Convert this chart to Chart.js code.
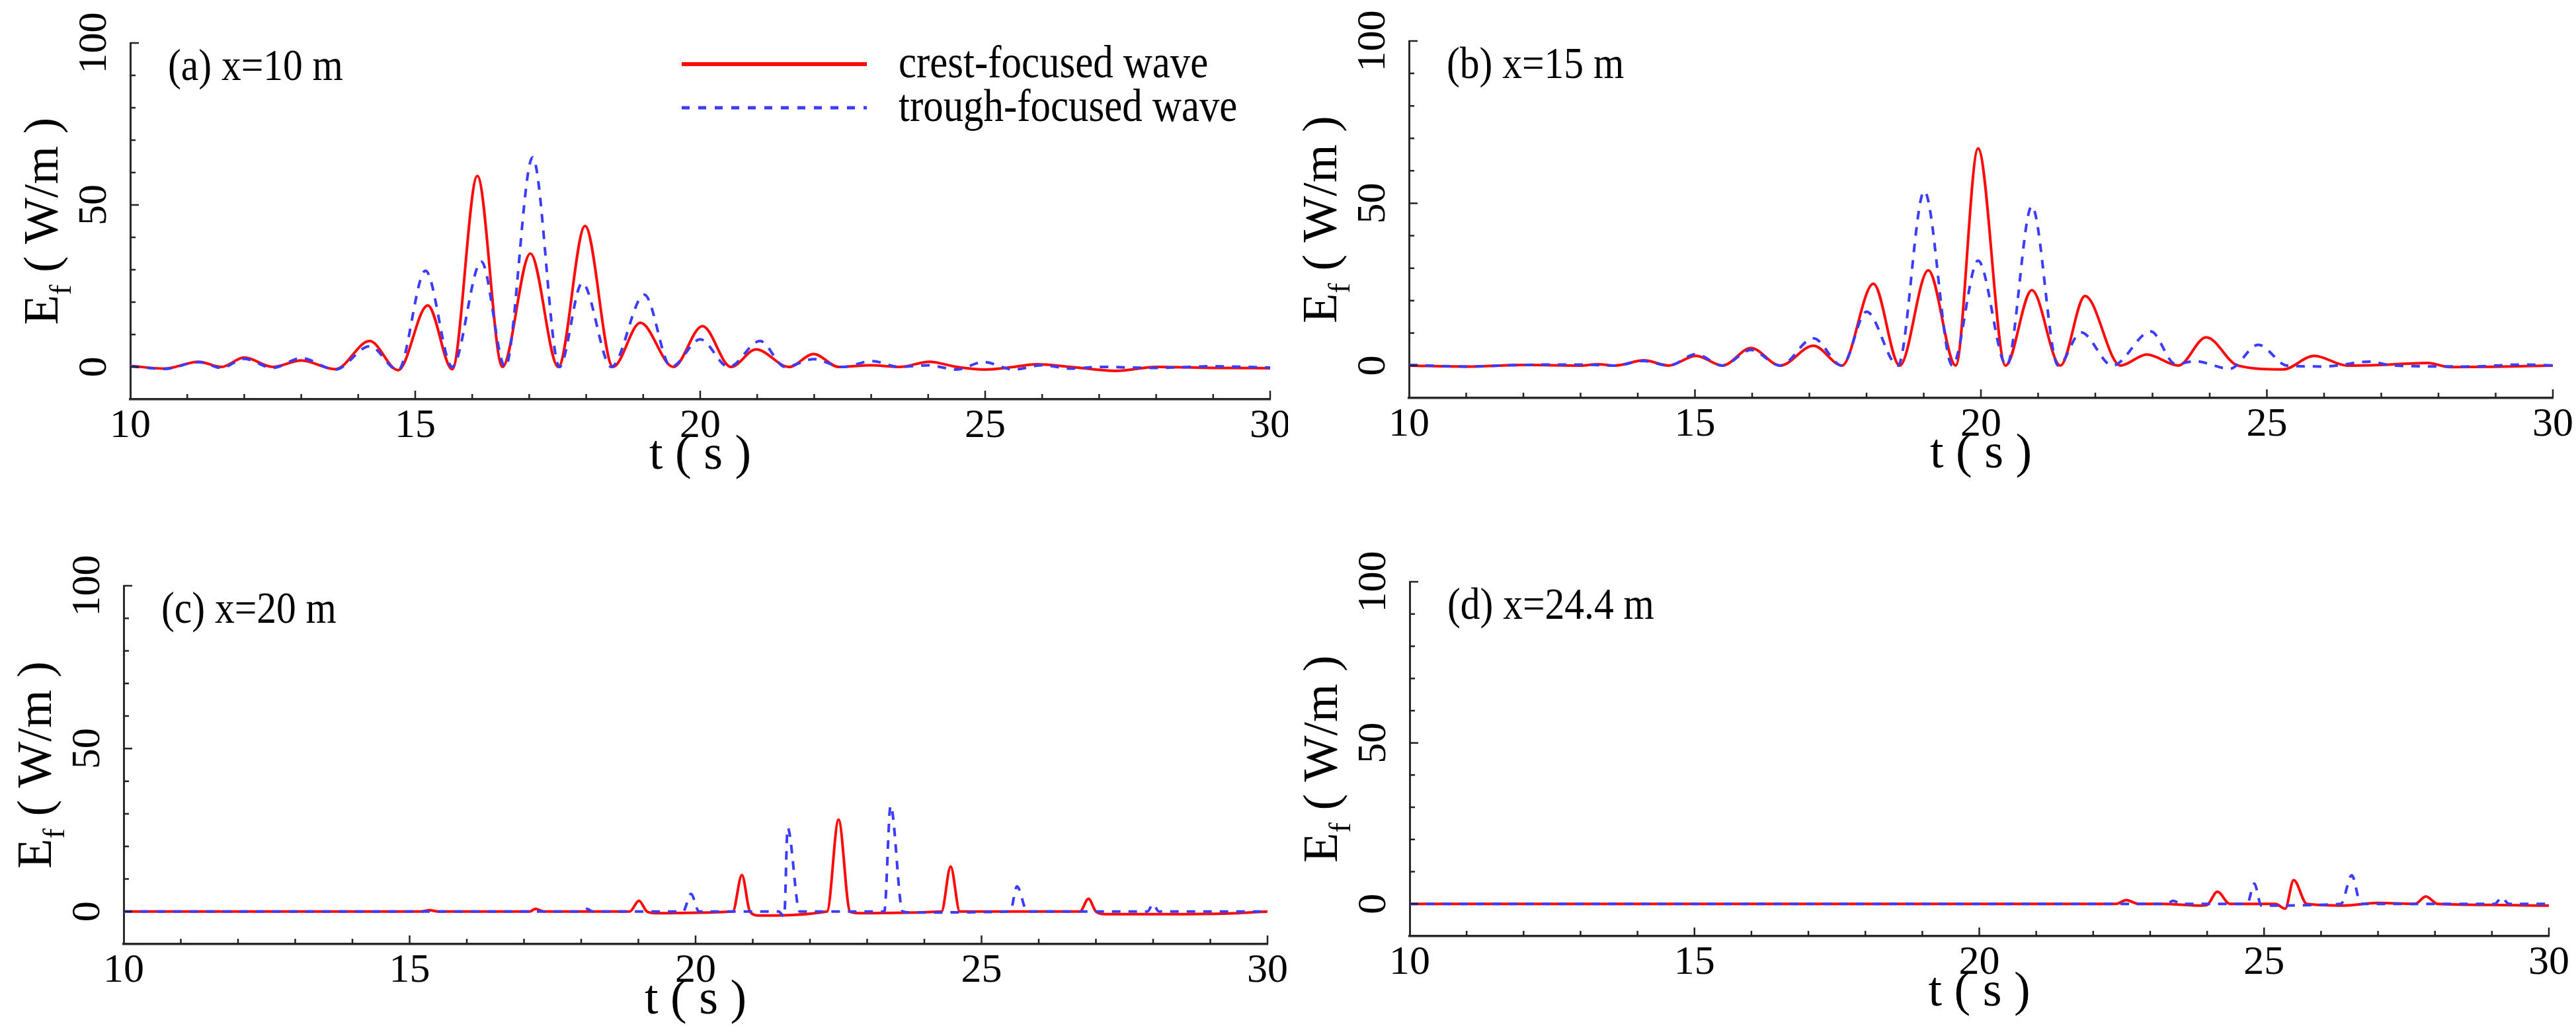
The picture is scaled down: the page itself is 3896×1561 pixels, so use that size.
<!DOCTYPE html>
<html lang="en">
<head>
    <meta charset="UTF-8">
    <title>Energy flux E_f</title>
    <script src="https://cdn.jsdelivr.net/npm/chart.js"></script>
    <style>
        body {
            margin: 0;
            background: #ffffff;
            width: 3896px;
            height: 1561px;
            position: relative;
            overflow: hidden;
        }

        .panel {
            position: absolute;
            width: 1948px;
            height: 780px;
        }
    </style>
</head>
<body>
    <div class="panel" style="left:0;top:0"><canvas id="chartA"></canvas></div>
    <div class="panel" style="left:1948px;top:0"><canvas id="chartB"></canvas></div>
    <div class="panel" style="left:0;top:780px"><canvas id="chartC"></canvas></div>
    <div class="panel" style="left:1948px;top:780px;height:781px"><canvas id="chartD"></canvas></div>

    <script>
        // series labels
        const seriesNames = ['crest-focused wave', 'trough-focused wave'];
        const panelLabels = ['(a) x=10 m', '(b) x=15 m', '(c) x=20 m', '(d) x=24.4 m'];

        // (a) x = 10 m
        const crestTimeA = [10, 10.6, 11.2, 11.6, 12.0, 12.5, 13.0, 13.6, 14.2, 14.7, 15.22, 15.65, 16.09, 16.53, 17.02, 17.51, 17.98, 18.47, 18.95, 19.53, 20.04, 20.54, 20.98, 21.56, 21.99, 22.43, 23.0, 23.5, 24.02, 24.5, 25.0, 25.5, 25.9, 26.5, 27.3, 28.0, 29.0, 30];
        const crestFluxA = [0.3, -0.5, 1.6, 0, 2.9, 0, 2.0, -0.7, 8, -1, 19, -0.7, 59, 0, 35, 0, 43.5, 0, 13.6, 0, 12.6, 0, 5.4, 0, 4.0, 0, 0.5, 0, 1.6, 0, -0.8, 0, 0.8, 0, -1.2, 0, -0.3, -0.4];
        const troughTimeA = [10, 10.6, 11.2, 11.6, 12.0, 12.5, 13.0, 13.6, 14.2, 14.7, 15.18, 15.65, 16.16, 16.58, 17.06, 17.53, 17.93, 18.44, 19.02, 19.49, 20.0, 20.5, 21.05, 21.49, 21.99, 22.5, 23.01, 23.5, 24.0, 24.5, 24.97, 25.5, 26.0, 26.5, 27.0, 28.0, 29.0, 30];
        const troughFluxA = [0.2, -0.6, 1.5, -0.3, 2.5, -0.3, 2.7, -0.8, 6.4, -1, 29.7, 0, 32.5, 0, 64.7, 0, 25.9, 0, 22.3, 0, 8.5, 0, 8.0, 0, 2.4, 0, 1.8, 0, 0.5, -0.8, 1.5, -0.8, 0.5, -0.5, 0, -0.3, 0.2, -0.2];

        // (b) x = 15 m
        const crestTimeB = [10, 11, 12, 13, 13.3, 13.6, 14.11, 14.54, 15.02, 15.48, 15.98, 16.49, 17.07, 17.57, 18.12, 18.58, 19.08, 19.56, 19.95, 20.43, 20.89, 21.39, 21.82, 22.44, 22.9, 23.45, 23.94, 24.49, 25.28, 25.83, 26.4, 27.0, 27.81, 28.2, 29, 30];
        const crestFluxB = [0, -0.3, 0.2, 0, 0.4, 0, 1.6, 0, 3.0, 0, 5.4, 0, 6.1, 0, 25.2, 0, 29.3, 0, 66.9, 0, 23.2, 0, 21.4, 0, 3.4, 0, 8.7, 0, -1.2, 3.0, 0, 0.2, 0.8, -0.5, -0.4, 0];
        const troughTimeB = [10, 11, 12, 13, 13.6, 14.1, 14.54, 15.02, 15.48, 15.98, 16.49, 17.07, 17.57, 18.0, 18.55, 19.01, 19.5, 19.95, 20.45, 20.89, 21.35, 21.75, 22.3, 22.97, 23.4, 23.75, 24.35, 24.85, 25.35, 26.0, 26.8, 27.2, 28.5, 29.5, 30];
        const troughFluxB = [0.2, -0.3, 0.2, 0.3, 0, 1.4, 0, 3.5, 0, 4.8, 0, 8.4, 0, 16.6, 0, 53.7, 0, 32.3, 0, 49.1, 0, 10.2, 0, 10.5, 0.5, 1.3, -1, 6.4, 0, -0.3, 1.2, 0, -0.3, 0.3, 0];

        // (c) x = 20 m
        const crestTimeC = [10, 15.2, 15.35, 15.5, 17.1, 17.2, 17.35, 18.85, 19.01, 19.15, 19.3, 20.65, 20.81, 20.95, 21.1, 22.3, 22.5, 22.7, 22.85, 24.3, 24.46, 24.62, 24.8, 26.72, 26.87, 27.0, 27.15, 28.3, 29.5, 30];
        const crestFluxC = [0, 0, 0.4, 0, 0, 0.8, 0, 0, 3.3, 0, -0.5, 0, 11.2, 0, -1.2, 0, 28.2, 0, -0.5, 0, 13.8, 0, 0, 0, 3.9, 0, -0.8, -0.8, -0.5, 0];
        const troughTimeC = [10, 18.0, 18.1, 18.2, 19.78, 19.92, 20.06, 21.45, 21.55, 21.61, 21.82, 21.95, 23.3, 23.41, 23.62, 23.75, 25.5, 25.62, 25.8, 27.9, 28.0, 28.1, 30];
        const troughFluxC = [0, 0, 0.8, 0, 0, 5.4, 0, 0, -1.5, 25.7, 0, 0, 0, 32.5, 0, -0.3, 0, 7.7, 0, 0, 2.3, 0, 0];

        // (d) x = 24.4 m
        const crestTimeD = [10, 22.4, 22.58, 22.8, 23.2, 23.9, 24.0, 24.18, 24.4, 24.6, 25.2, 25.37, 25.52, 25.75, 26.4, 27.0, 27.65, 27.84, 28.05, 29.0, 29.9, 30];
        const crestFluxD = [0, 0, 1.2, 0, 0, -0.5, -0.3, 3.8, 0, 0, 0, -1.5, 7.4, 0, -0.5, 0.3, 0, 2.3, 0, -0.3, -0.5, -0.5];
        const troughTimeD = [10, 22.0, 23.3, 23.4, 23.55, 24.7, 24.83, 24.95, 26.35, 26.54, 26.7, 29.05, 29.17, 29.3, 30];
        const troughFluxD = [0, 0, 0, 1.0, 0, 0, 6.3, -0.5, 0, 8.9, 0, 0, 2.0, 0, 0];

        // axis ranges and labelled ticks
        const tMin = 10, tMax = 30, tStep = 1, tLabelEvery = 5;
        const eMin = -10, eMax = 100, eStep = 10, eLabelEvery = 50;

        const serif = '"Liberation Serif", "Times New Roman", serif';
        const red = '#ff0a0a';
        const blue = '#3c3cff';

        function pts(ts, vs) {
            return ts.map((t, i) => ({ x: t, y: vs[i] }));
        }

        // narrow serif text, like the original figure
        function narrowText(ctx, text, x, y, size, squeeze) {
            ctx.save();
            ctx.translate(x, y);
            ctx.scale(squeeze, 1);
            ctx.font = size + 'px ' + serif;
            ctx.textAlign = 'left';
            ctx.fillText(text, 0, 0);
            ctx.restore();
        }

        // inward ticks, panel label, axis titles and (panel a) legend
        const decor = {
            id: 'decor',
            afterDraw(chart) {
                const o = chart.options.plugins.decor;
                const ctx = chart.ctx;
                const a = chart.chartArea;
                const xs = chart.scales.x, ys = chart.scales.y;
                ctx.save();
                ctx.strokeStyle = '#222';
                ctx.lineWidth = 2.5;
                ctx.beginPath();
                xs.ticks.forEach(tk => {
                    if (tk.value <= tMin) return;
                    const px = xs.getPixelForValue(tk.value);
                    const len = tk.value % tLabelEvery === 0 ? 13 : 8;
                    ctx.moveTo(px, a.bottom);
                    ctx.lineTo(px, a.bottom - len);
                });
                ys.ticks.forEach(tk => {
                    if (tk.value <= eMin) return;
                    const py = ys.getPixelForValue(tk.value);
                    const len = tk.value % eLabelEvery === 0 ? 13 : 8;
                    ctx.moveTo(a.left, py);
                    ctx.lineTo(a.left + len, py);
                });
                ctx.stroke();

                ctx.fillStyle = '#000';
                ctx.textBaseline = 'alphabetic';

                // panel label
                narrowText(ctx, o.label, a.left + 57, a.top + 56, 68, 0.875);

                // x title
                ctx.font = '74px ' + serif;
                ctx.textAlign = 'center';
                ctx.fillText('t ( s )', (a.left + a.right) / 2, a.bottom + 105);

                // y title with subscript f
                ctx.translate(a.left - 110, (a.top + a.bottom) / 2);
                ctx.rotate(-Math.PI / 2);
                ctx.textAlign = 'left';
                const big = '74px ' + serif, small = '46px ' + serif;
                ctx.font = big;
                const wE = ctx.measureText('E').width;
                const wRest = ctx.measureText(' ( W/m )').width;
                ctx.font = small;
                const wf = ctx.measureText('f').width;
                let cx = -(wE + wf + wRest) / 2;
                ctx.font = big;
                ctx.fillText('E', cx, 0);
                cx += wE;
                ctx.font = small;
                ctx.fillText('f', cx, 20);
                cx += wf;
                ctx.font = big;
                ctx.fillText(' ( W/m )', cx, 0);
                ctx.restore();

                if (o.legend) {
                    ctx.save();
                    const ds = chart.data.datasets;
                    const rows = [97, 163];
                    ds.forEach((d, i) => {
                        ctx.strokeStyle = d.borderColor;
                        ctx.lineWidth = i === 0 ? 6 : 5;
                        ctx.setLineDash(i === 0 ? [] : [12, 13]);
                        ctx.beginPath();
                        ctx.moveTo(1031, rows[i]);
                        ctx.lineTo(1311, rows[i]);
                        ctx.stroke();
                        ctx.setLineDash([]);
                        ctx.fillStyle = '#000';
                        narrowText(ctx, d.label, 1359, rows[i] + 20, 70, 0.87);
                    });
                    ctx.restore();
                }
            }
        };

        function makeChart(id, label, crestT, crestE, troughT, troughE, box, legend) {
            const ctx = document.getElementById(id).getContext('2d');
            return new Chart(ctx, {
                type: 'line',
                data: {
                    datasets: [{
                        label: seriesNames[0],
                        data: pts(crestT, crestE),
                        borderColor: red,
                        borderWidth: 4,
                        pointRadius: 0,
                        cubicInterpolationMode: 'monotone',
                        fill: false,
                        order: 2
                    }, {
                        label: seriesNames[1],
                        data: pts(troughT, troughE),
                        borderColor: blue,
                        borderWidth: 4,
                        borderDash: [13, 12],
                        pointRadius: 0,
                        cubicInterpolationMode: 'monotone',
                        fill: false,
                        order: 1
                    }]
                },
                options: {
                    responsive: true,
                    maintainAspectRatio: false,
                    devicePixelRatio: 1,
                    animation: false,
                    events: [],
                    layout: { padding: { left: 0, top: box.top, right: box.right, bottom: 0 } },
                    plugins: {
                        legend: { display: false },
                        tooltip: { enabled: false },
                        decor: { label: label, legend: legend }
                    },
                    scales: {
                        x: {
                            type: 'linear',
                            min: tMin,
                            max: tMax,
                            grid: { display: false },
                            border: { display: true, color: '#2a2a2a', width: 3.5 },
                            ticks: {
                                stepSize: tStep,
                                autoSkip: false,
                                maxRotation: 0,
                                padding: -4,
                                color: '#000',
                                font: { family: serif, size: 62, lineHeight: 1.2 },
                                callback: v => (v % tLabelEvery === 0 ? v : '')
                            },
                            afterFit: s => { s.height = box.xh; s.paddingLeft = 0; s.paddingRight = 0; }
                        },
                        y: {
                            min: eMin,
                            max: eMax,
                            grid: { display: false },
                            border: { display: true, color: '#2a2a2a', width: 3 },
                            ticks: {
                                stepSize: eStep,
                                autoSkip: false,
                                minRotation: 90,
                                maxRotation: 90,
                                crossAlign: 'center',
                                padding: -1,
                                color: '#000',
                                font: { family: serif, size: 62, lineHeight: 1.2 },
                                callback: v => (v % eLabelEvery === 0 ? v : '')
                            },
                            afterFit: s => { s.width = box.yw; s.paddingTop = 0; s.paddingBottom = 0; }
                        }
                    }
                },
                plugins: [decor]
            });
        }

        makeChart('chartA', panelLabels[0], crestTimeA, crestFluxA, troughTimeA, troughFluxA,
            { top: 65, right: 27, yw: 197, xh: 176 }, true);
        makeChart('chartB', panelLabels[1], crestTimeB, crestFluxB, troughTimeB, troughFluxB,
            { top: 62, right: 35, yw: 183, xh: 178 }, false);
        makeChart('chartC', panelLabels[2], crestTimeC, crestFluxC, troughTimeC, troughFluxC,
            { top: 106, right: 31, yw: 187, xh: 132 }, false);
        makeChart('chartD', panelLabels[3], crestTimeD, crestFluxD, troughTimeD, troughFluxD,
            { top: 100, right: 41, yw: 184, xh: 145 }, false);
    </script>
</body>
</html>
